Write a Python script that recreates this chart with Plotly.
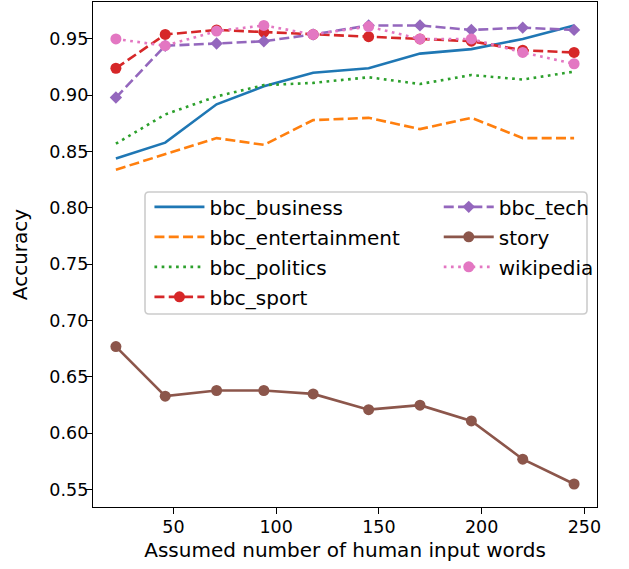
import plotly.graph_objects as go

words = [22, 46, 71, 94, 118, 145, 170, 195, 220, 245]

bbc_business = [0.844, 0.858, 0.892, 0.908, 0.920, 0.924, 0.937, 0.941, 0.950, 0.962]
bbc_entertainment = [0.834, 0.848, 0.862, 0.856, 0.878, 0.880, 0.870, 0.880, 0.862, 0.862]
bbc_politics = [0.857, 0.883, 0.899, 0.909, 0.911, 0.916, 0.910, 0.918, 0.914, 0.921]
bbc_sport = [0.924, 0.954, 0.958, 0.956, 0.954, 0.952, 0.950, 0.948, 0.940, 0.938]
bbc_tech = [0.898, 0.944, 0.946, 0.948, 0.954, 0.962, 0.962, 0.958, 0.960, 0.958]
story = [0.677, 0.633, 0.638, 0.638, 0.635, 0.621, 0.625, 0.611, 0.577, 0.555]
wikipedia = [0.950, 0.944, 0.957, 0.962, 0.954, 0.961, 0.950, 0.950, 0.938, 0.928]

x_ticks = [50, 100, 150, 200, 250]
y_ticks = [0.55, 0.60, 0.65, 0.70, 0.75, 0.80, 0.85, 0.90, 0.95]

LW = 2.6
DASH = "10px,4.3px"
DOT = "2.7px,4.5px"
FONT = "DejaVu Sans"
TICK_SIZE = 17.5
LEG_SIZE = 20
TITLE_SIZE = 20

series = [
    # name, values, color, dash, marker, legend, rank
    ("bbc_business", bbc_business, "#1f77b4", "solid", None, "legend", 1),
    ("bbc_entertainment", bbc_entertainment, "#ff7f0e", DASH, None, "legend", 2),
    ("bbc_politics", bbc_politics, "#2ca02c", DOT, None, "legend", 3),
    ("bbc_sport", bbc_sport, "#d62728", DASH, "circle", "legend", 4),
    ("bbc_tech", bbc_tech, "#9467bd", DASH, "diamond", "legend2", 5),
    ("story", story, "#8c564b", "solid", "circle", "legend2", 6),
    ("wikipedia", wikipedia, "#e377c2", DOT, "circle", "legend2", 7),
]

fig = go.Figure()
for name, vals, color, dash, marker, leg, rank in series:
    kw = {}
    if marker:
        kw["mode"] = "lines+markers"
        kw["marker"] = dict(symbol=marker, size=9.5 if marker == "diamond" else 11, color=color)
    else:
        kw["mode"] = "lines"
    fig.add_trace(go.Scatter(
        x=words, y=vals, name=name,
        line=dict(color=color, width=LW, dash=dash),
        legend=leg, legendgroup=name, legendrank=rank,
        **kw,
    ))

axis_common = dict(
    showline=True, mirror=True, linecolor="black", linewidth=1.4,
    ticks="outside", ticklen=6, tickwidth=1.4, tickcolor="black",
    showgrid=False, zeroline=False, automargin=False,
    tickfont=dict(family=FONT, size=TICK_SIZE, color="black"),
)

fig.update_layout(
    width=629, height=569,
    margin=dict(l=93, r=32, t=2, b=62, autoexpand=False),
    paper_bgcolor="white", plot_bgcolor="white",
    font=dict(family=FONT, size=TICK_SIZE, color="black"),
    xaxis=dict(range=[10.85, 256.15], tickvals=x_ticks, ticklabelstandoff=-2,
               title=dict(text="Assumed number of human input words",
                          font=dict(size=TITLE_SIZE), standoff=6),
               **axis_common),
    yaxis=dict(range=[0.5346, 0.9828], tickvals=y_ticks, tickformat=".2f",
               ticklabelstandoff=-6,
               title=dict(text="Accuracy", font=dict(size=TITLE_SIZE), standoff=16),
               **axis_common),
    legend=dict(x=0.112, y=0.633, xanchor="left", yanchor="top",
                bgcolor="rgba(0,0,0,0)", borderwidth=0, itemwidth=50,
                tracegroupgap=1, traceorder="grouped",
                font=dict(family=FONT, size=LEG_SIZE)),
    legend2=dict(x=0.686, y=0.633, xanchor="left", yanchor="top",
                 bgcolor="rgba(0,0,0,0)", borderwidth=0, itemwidth=50,
                 tracegroupgap=1, traceorder="grouped",
                 font=dict(family=FONT, size=LEG_SIZE)),
    showlegend=True,
)

# legend frame (rounded rectangle) in paper coordinates
x0, x1 = (145 - 93) / 504, (587 - 93) / 504
y1, y0 = 1 - (192 - 2) / 505, 1 - (314 - 2) / 505
rx, ry = 4 / 504, 4 / 505
path = (f"M{x0+rx},{y1} L{x1-rx},{y1} Q{x1},{y1} {x1},{y1-ry} "
        f"L{x1},{y0+ry} Q{x1},{y0} {x1-rx},{y0} L{x0+rx},{y0} "
        f"Q{x0},{y0} {x0},{y0+ry} L{x0},{y1-ry} Q{x0},{y1} {x0+rx},{y1} Z")
fig.add_shape(type="path", path=path, xref="paper", yref="paper",
              line=dict(color="#cccccc", width=1.6),
              fillcolor="rgba(255,255,255,0.8)", layer="below")

fig.write_html("out.html", config={"displayModeBar": False},
               post_script="document.body.style.margin='0px';document.body.style.overflow='hidden';")
